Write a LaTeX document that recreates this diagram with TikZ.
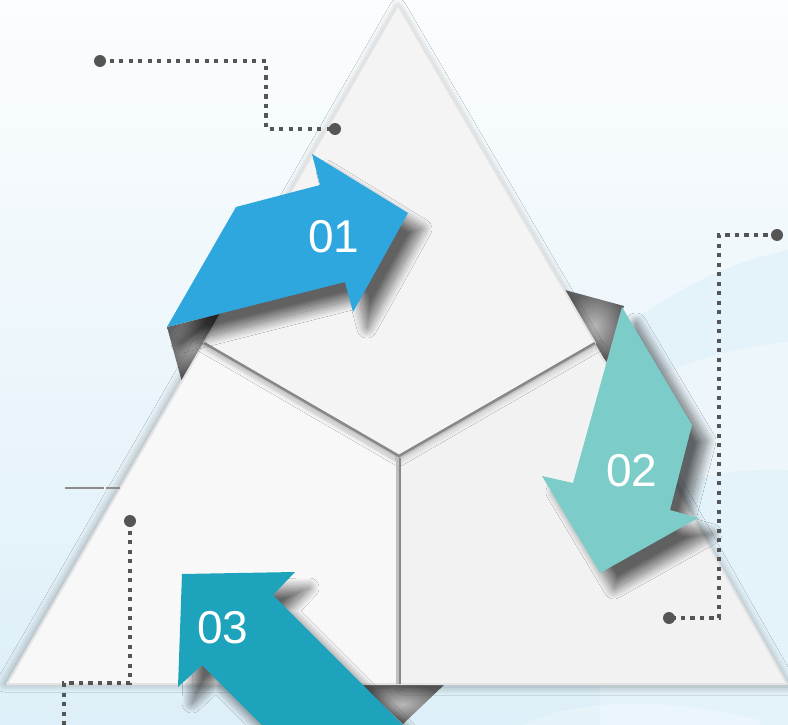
\documentclass[tikz,border=0pt]{standalone}
\usepackage{fontspec}
\setmainfont{Liberation Sans}
\usetikzlibrary{shadows.blur}
\definecolor{bgtop}{HTML}{FBFDFE}
\definecolor{bgbot}{HTML}{DDEFF8}
\definecolor{waveblue}{HTML}{E4F3FA}
\definecolor{piecetop}{HTML}{F4F4F4}
\definecolor{piecel}{HTML}{F8F8F8}
\definecolor{piecer}{HTML}{F2F2F2}
\definecolor{edgegray}{HTML}{888888}
\definecolor{rimgray}{HTML}{E4E4E4}
\definecolor{arrowA}{HTML}{2EA7DF}
\definecolor{arrowB}{HTML}{7CCDC9}
\definecolor{arrowC}{HTML}{1EA3BC}
\definecolor{dotgray}{HTML}{555555}
\begin{document}
\begin{tikzpicture}[x=1pt,y=-1pt,
  piece/.style={fill=#1, draw=rimgray, line width=2pt, line join=round},
  seam/.style={draw=edgegray, line width=2.5pt},
  fold/.style={inner color=black!28, outer color=black!62},
  arrowshape/.style={fill=#1, blur shadow={shadow xshift=14pt, shadow yshift=-16pt, shadow blur radius=10pt, shadow blur steps=25, shadow opacity=60}},
  numlabel/.style={text=white, font=\fontsize{46}{50}\selectfont, inner sep=0pt},
  dotline/.style={draw=dotgray, line width=4.3pt, dash pattern=on 4.3pt off 5.2pt},
  dotend/.style={circle, fill=dotgray, minimum size=12pt, inner sep=0pt}]
\useasboundingbox (0,0) rectangle (788,725);
\begin{scope}
\clip (0,0) rectangle (788,725);
% background
\shade[top color=bgtop, bottom color=bgbot] (0,0) rectangle (788,725);
\fill[waveblue] (600,345) .. controls (670,290) and (730,262) .. (788,250) -- (788,725) -- (600,725) -- cycle;
\fill[white, opacity=0.3] (640,385) .. controls (700,355) and (750,345) .. (788,342) -- (788,470) .. controls (740,468) and (700,475) .. (660,490) -- cycle;
\fill[white, opacity=0.25] (480,760) .. controls (520,700) and (640,690) .. (760,720) -- (760,760) -- cycle;
% folds behind
\shade[fold] (167,327) -- (228,312) -- (205,345) -- (182,382) -- cycle;
\shade[fold] (565,290) -- (624,306) -- (607,362) -- (593,346) -- cycle;
\shade[fold] (360,684) -- (445,684) -- (403,724) -- cycle;
% triangle pieces
\path[piece=piecel, blur shadow={shadow xshift=-3pt, shadow yshift=0pt, shadow blur radius=8pt, shadow blur steps=20, shadow opacity=30}]
  (7,684) -- (203,345) -- (399,458) -- (399,684) -- cycle;
\path[piece=piecer, blur shadow={shadow xshift=3pt, shadow yshift=-3pt, shadow blur radius=8pt, shadow blur steps=20, shadow opacity=30}]
  (400,458) -- (595,345) -- (787,684) -- (400,684) -- cycle;
\path[piece=piecetop, blur shadow={shadow xshift=0pt, shadow yshift=-2pt, shadow blur radius=8pt, shadow blur steps=20, shadow opacity=30}]
  (398,5) -- (204,343) -- (399,456) -- (595,343) -- cycle;
% seams
\draw[black!20, line width=5pt, opacity=0.5] (207,348) -- (399,461);
\draw[seam] (204,343) -- (399,456) -- (595,343);
\draw[black!25, line width=4pt] (398,458) -- (398,684);
\draw[edgegray, line width=2pt] (399.5,458) -- (399.5,684);
% small gray line at left
\draw[black!45, line width=2pt] (65,488) -- (104,488);
\draw[black!45, line width=2pt] (106,488) -- (120,488);
% arrows
\path[arrowshape=arrowA] (167,327) -- (236,207) -- (320,185) -- (312,154) -- (408,213) -- (353,312) -- (345,282) -- cycle;
\path[arrowshape=arrowB] (622,307) -- (692,425) -- (670,510) -- (698,518) -- (600,573) -- (542,476) -- (573,483) -- cycle;
\path[arrowshape=arrowC] (182,574) -- (295,572) -- (273,595) -- (438,760) -- (297,760) -- (202,665) -- (178,687) -- cycle;
\node[numlabel] (n1) at (334,237) {01};
\node[numlabel] (n2) at (632,471) {02};
\node[numlabel] (n3) at (223,628) {03};
% dotted connectors
\node[dotend] (d1a) at (100,61) {};
\node[dotend] (d1b) at (335,129) {};
\coordinate (d1c) at (266,61);
\coordinate (d1d) at (266,129);
\draw[dotline] (d1a.center) -- (d1c) -- (d1d) -- (d1b.center);
\node[dotend] (d2a) at (777,235) {};
\node[dotend] (d2b) at (669,618) {};
\coordinate (d2c) at (719,235);
\coordinate (d2d) at (719,618);
\draw[dotline] (d2a.center) -- (d2c) -- (d2d) -- (d2b.center);
\node[dotend] (d3a) at (130,521) {};
\coordinate (d3c) at (130,683);
\coordinate (d3d) at (64,683);
\coordinate (d3e) at (64,735);
\draw[dotline] (d3a.center) -- (d3c) -- (d3d) -- (d3e);
\end{scope}
\end{tikzpicture}
\end{document}
